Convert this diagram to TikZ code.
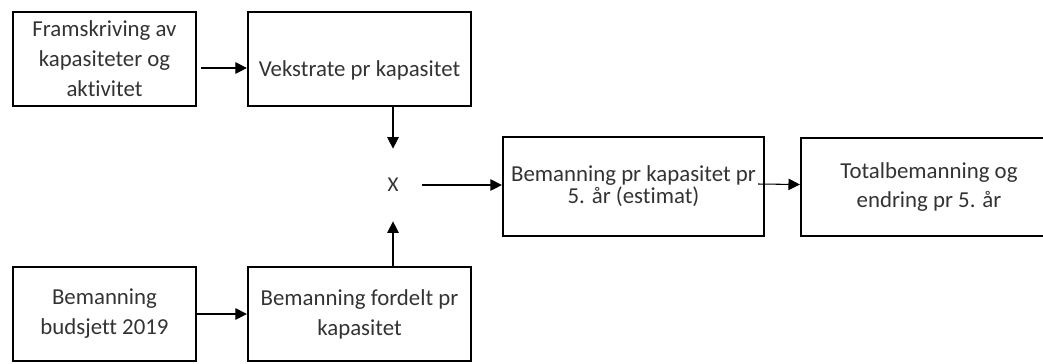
\documentclass[tikz,border=0pt]{standalone}
\usepackage{fontspec}
\setmainfont{Carlito}[Ligatures=NoCommon]
\usetikzlibrary{arrows.meta}
\begin{document}
\begin{tikzpicture}[x=0.02cm,y=-0.02cm,
  box/.style={draw,line width=1.3pt,align=center,inner sep=0pt,text=black!80,font=\fontsize{13}{17}\selectfont},
  arr/.style={-{Triangle[length=6.5pt,width=6.5pt]},line width=0.6pt}]
\useasboundingbox (0,0) rectangle (1043,363);
\node[box,minimum width=3.66cm,minimum height=1.88cm] (fram) at (104.5,59) {Framskriving av\\kapasiteter og\\aktivitet};
\node[box,minimum width=4.46cm,minimum height=1.88cm,text height=21.5pt] (vekst) at (359.5,59) {Vekstrate pr kapasitet};
\node[box,minimum width=3.66cm,minimum height=1.88cm] (budsj) at (104.5,314) {Bemanning\\budsjett 2019};
\node[box,minimum width=4.46cm,minimum height=1.88cm] (fordelt) at (359.5,314) {Bemanning fordelt pr\\kapasitet};
\node[text=black!80,font=\fontsize{12}{14}\selectfont,minimum width=1.16cm,minimum height=1.44cm,inner sep=0pt] (x) at (393,185) {X};
\node[box,minimum width=5.22cm,minimum height=1.98cm,font=\fontsize{13}{12.5}\selectfont] (est) at (633.5,186.5) {Bemanning pr kapasitet pr\\5. år (estimat)};
\node[box,minimum width=5.12cm,minimum height=1.96cm] (total) at (929,187) {Totalbemanning og\\endring pr 5. år};
\draw[arr] ([xshift=0.08cm,yshift=-0.18cm]fram.east) -- ([yshift=-0.18cm]vekst.west);
\draw[arr] (budsj.east) -- (fordelt.west);
\draw[arr] (vekst.south -| x.north) -- (x.north);
\draw[arr] (fordelt.north -| x.south) -- (x.south);
\draw[arr] (x.east) -- (x.east -| est.west);
\draw[arr] ([xshift=-0.14cm,yshift=0.05cm]est.east) -- ([yshift=0.05cm]total.west);
\end{tikzpicture}
\end{document}
